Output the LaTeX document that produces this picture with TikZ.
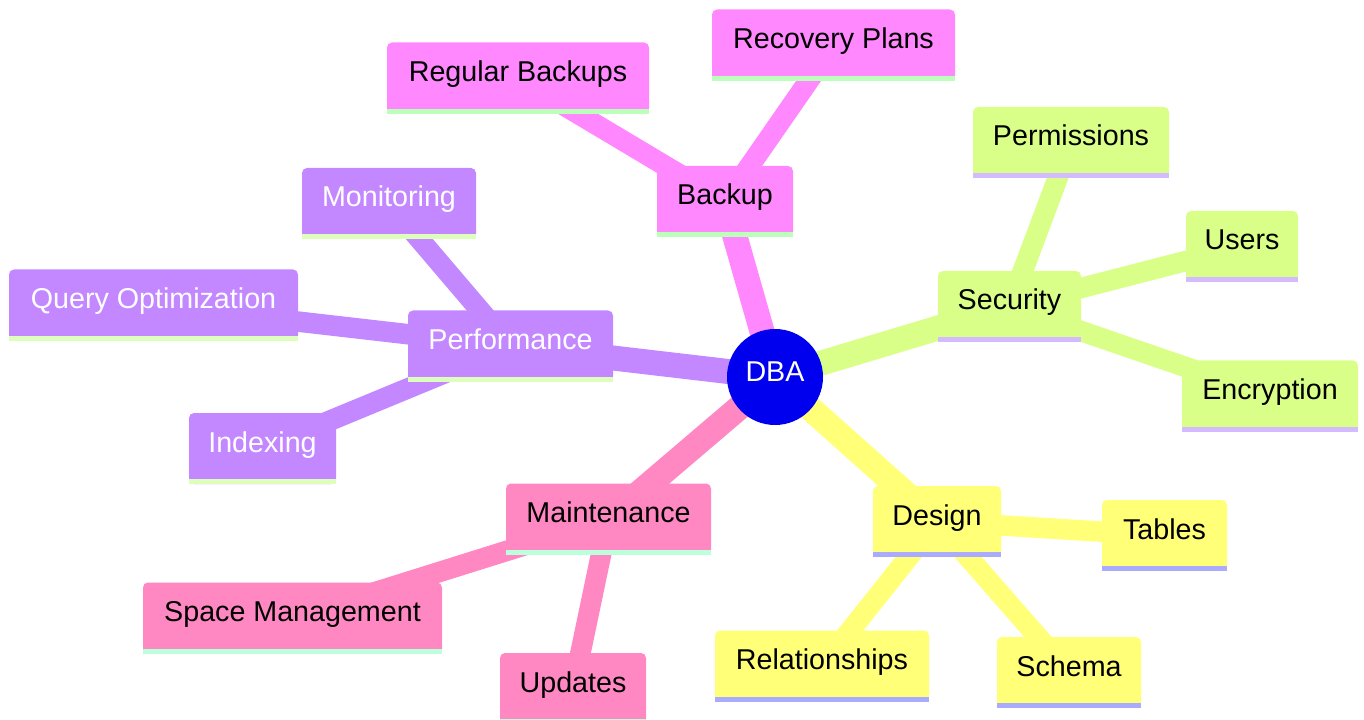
\documentclass[tikz,border=0pt]{standalone}
\usepackage{fontspec}
\setmainfont{Liberation Sans}
\pgfdeclarelayer{background}
\pgfsetlayers{background,main}
\definecolor{bkF}{HTML}{FF88FF}
\definecolor{bkS}{HTML}{BBFFBB}
\definecolor{seF}{HTML}{DAFF88}
\definecolor{seS}{HTML}{D4BBFF}
\definecolor{deF}{HTML}{FFFF78}
\definecolor{deS}{HTML}{AAAAFF}
\definecolor{maF}{HTML}{FF88C3}
\definecolor{maS}{HTML}{BBFFDD}
\definecolor{peF}{HTML}{C388FF}
\definecolor{peS}{HTML}{DDFFBB}
\definecolor{rootF}{HTML}{0000EE}
\tikzset{
  mm/.style={rectangle, rounded corners=3.75pt, minimum height=53.25pt, inner xsep=10pt, inner ysep=0pt,
    text height=15pt, text depth=9.75pt, font=\fontsize{21.5}{24}\selectfont},
  wd/.style={minimum width=#1*0.75pt},
  bk/.style={mm, fill=bkF, text=black},
  se/.style={mm, fill=seF, text=black},
  de/.style={mm, fill=deF, text=black},
  ma/.style={mm, fill=maF, text=black},
  pe/.style={mm, fill=peF, text=white},
  root/.style={circle, fill=rootF, text=white, minimum size=72pt, inner sep=0pt,
    text height=15.4pt, text depth=9pt, font=\fontsize{21.5}{24}\selectfont},
  e0/.style={line width=18.75pt},
  e1/.style={line width=15.4pt}
}
\begin{document}
\begin{tikzpicture}[x=0.75pt,y=-0.75pt]
\useasboundingbox (0,0) rectangle (1364,720);
\clip (0,0) rectangle (1364,720);
\node[root] (dba) at (775,377) {DBA};
% Backup
\node[bk, wd=136] (backup) at (725,201.5) {Backup};
\node[bk, wd=262] (regb) at (518,78) {Regular Backups};
\node[bk, wd=243] (recp) at (833.5,45) {Recovery Plans};
% Security
\node[se, wd=143] (security) at (1009.5,306.5) {Security};
\node[se, wd=196] (perm) at (1071,142.5) {Permissions};
\node[se, wd=112] (users) at (1242,246.5) {Users};
\node[se, wd=176] (encr) at (1270,396) {Encryption};
% Design
\node[de, wd=128] (design) at (937,521.5) {Design};
\node[de, wd=125] (tables) at (1164.5,535.5) {Tables};
\node[de, wd=214] (relat) at (822,666) {Relationships};
\node[de, wd=144] (schema) at (1069,672.5) {Schema};
% Maintenance
\node[ma, wd=205] (maint) at (608.5,519) {Maintenance};
\node[ma, wd=299] (space) at (292.5,618) {Space Management};
\node[ma, wd=146] (updates) at (573,688.5) {Updates};
% Performance
\node[pe, wd=205] (perf) at (510.5,346) {Performance};
\node[pe, wd=174] (monit) at (389,203.5) {Monitoring};
\node[pe, wd=289] (query) at (153.5,305) {Query Optimization};
\node[pe, wd=147] (index) at (262.5,448.5) {Indexing};
% bottom stripes
\foreach \n/\c in {backup/bkS, regb/bkS, recp/bkS,
                   security/seS, perm/seS, users/seS, encr/seS,
                   design/deS, tables/deS, relat/deS, schema/deS,
                   maint/maS, space/maS, updates/maS,
                   perf/peS, monit/peS, query/peS, index/peS}
  \fill[\c] (\n.south west) rectangle ([yshift=3.75pt]\n.south east);
\begin{pgfonlayer}{background}
\draw[e0, bkF] (dba.center) -- (backup.center);
\draw[e1, bkF] (backup.center) -- (regb.center);
\draw[e1, bkF] (backup.center) -- (recp.center);
\draw[e0, seF] (dba.center) -- (security.center);
\draw[e1, seF] (security.center) -- (perm.center);
\draw[e1, seF] (security.center) -- (users.center);
\draw[e1, seF] (security.center) -- (encr.center);
\draw[e0, deF] (dba.center) -- (design.center);
\draw[e1, deF] (design.center) -- (tables.center);
\draw[e1, deF] (design.center) -- (relat.center);
\draw[e1, deF] (design.center) -- (schema.center);
\draw[e0, maF] (dba.center) -- (maint.center);
\draw[e1, maF] (maint.center) -- (space.center);
\draw[e1, maF] (maint.center) -- (updates.center);
\draw[e0, peF] (dba.center) -- (perf.center);
\draw[e1, peF] (perf.center) -- (monit.center);
\draw[e1, peF] (perf.center) -- (query.center);
\draw[e1, peF] (perf.center) -- (index.center);
\end{pgfonlayer}
\end{tikzpicture}
\end{document}
